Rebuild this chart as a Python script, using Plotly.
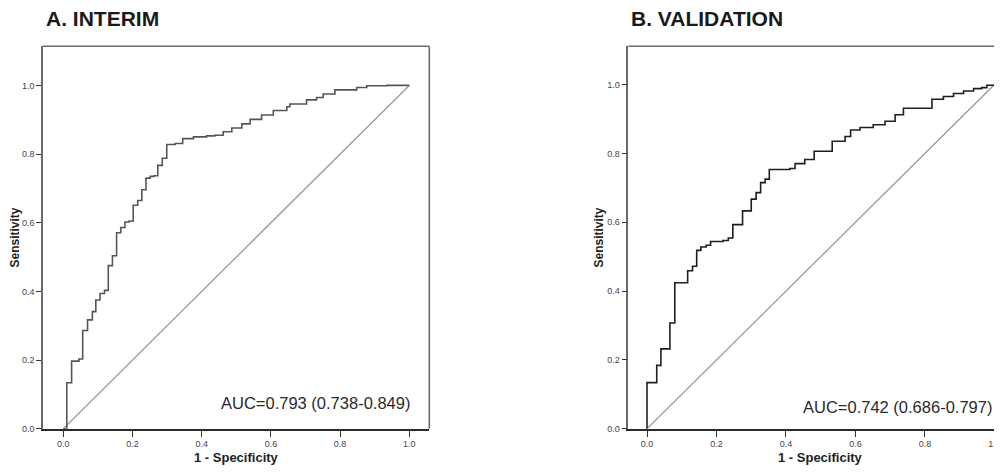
import plotly.graph_objects as go

# ---- data ----
panel_titles = ["A. INTERIM", "B. VALIDATION"]
auc_labels = ["AUC=0.793 (0.738-0.849)", "AUC=0.742 (0.686-0.797)"]
tick_vals = [0.0, 0.2, 0.4, 0.6, 0.8, 1.0]
tick_text = ["0.0", "0.2", "0.4", "0.6", "0.8", "1.0"]

interim_fpr = [0.000, 0.010, 0.024, 0.045, 0.056, 0.070, 0.084, 0.094, 0.106, 0.119,
               0.130, 0.142, 0.154, 0.166, 0.178, 0.190, 0.202, 0.215, 0.227, 0.239,
               0.251, 0.262, 0.273, 0.286, 0.299, 0.323, 0.345, 0.376, 0.414, 0.438,
               0.462, 0.487, 0.516, 0.540, 0.573, 0.607, 0.646, 0.655, 0.703, 0.732,
               0.751, 0.785, 0.848, 0.877, 0.935, 1.000]
interim_tpr = [0.000, 0.134, 0.197, 0.203, 0.286, 0.317, 0.341, 0.375, 0.394, 0.403,
               0.475, 0.504, 0.571, 0.586, 0.602, 0.605, 0.651, 0.665, 0.696, 0.730,
               0.735, 0.737, 0.767, 0.788, 0.828, 0.831, 0.845, 0.850, 0.853, 0.855,
               0.865, 0.876, 0.888, 0.901, 0.914, 0.927, 0.938, 0.946, 0.958, 0.965,
               0.975, 0.987, 0.994, 0.999, 1.000, 1.000]

validation_fpr = [0.000, 0.000, 0.028, 0.040, 0.066, 0.080, 0.117, 0.131, 0.143, 0.155,
                  0.170, 0.183, 0.219, 0.234, 0.247, 0.275, 0.300, 0.314, 0.327, 0.340,
                  0.352, 0.411, 0.426, 0.454, 0.481, 0.533, 0.570, 0.586, 0.613, 0.651,
                  0.685, 0.714, 0.738, 0.820, 0.853, 0.882, 0.911, 0.940, 0.963, 0.978,
                  1.000]
validation_tpr = [0.000, 0.134, 0.184, 0.232, 0.307, 0.424, 0.459, 0.472, 0.518, 0.528,
                  0.533, 0.544, 0.547, 0.554, 0.593, 0.633, 0.667, 0.686, 0.715, 0.725,
                  0.753, 0.756, 0.770, 0.782, 0.806, 0.835, 0.849, 0.868, 0.875, 0.883,
                  0.893, 0.912, 0.931, 0.957, 0.965, 0.974, 0.981, 0.988, 0.991, 0.998,
                  1.000]

diag = [0.0, 1.0]

# page body has an 8px default margin: the figure is shifted by it
OFF = 8
W, H = 1002 - OFF, 474 - OFF
FONT = "Arial, Liberation Sans, sans-serif"


def px(x):
    return (x - OFF) / W


def py(y):
    return 1 - (y - OFF) / H


fig = go.Figure()

fig.add_trace(go.Scatter(x=diag, y=diag, mode="lines", line=dict(color="#9a9a9a", width=1.3),
                         xaxis="x", yaxis="y", hoverinfo="skip", showlegend=False))
fig.add_trace(go.Scatter(x=diag, y=diag, mode="lines", line=dict(color="#9a9a9a", width=1.3),
                         xaxis="x2", yaxis="y2", hoverinfo="skip", showlegend=False))
fig.add_trace(go.Scatter(x=interim_fpr, y=interim_tpr, mode="lines", line_shape="hv",
                         line=dict(color="#555555", width=1.6), xaxis="x", yaxis="y",
                         showlegend=False))
fig.add_trace(go.Scatter(x=validation_fpr, y=validation_tpr, mode="lines", line_shape="hv",
                         line=dict(color="#1e1e1e", width=1.6), xaxis="x2", yaxis="y2",
                         showlegend=False))

ydom = [py(433.3), py(46.7)]
common_x = dict(tickmode="array", tickvals=tick_vals, ticktext=tick_text, ticks="outside",
                ticklen=6, tickwidth=1.3, tickcolor="#333333", showgrid=False, zeroline=False,
                showline=True, linecolor="#2a2a2a", linewidth=1.6,
                tickfont=dict(family=FONT, size=9, color="#444444"), fixedrange=True)
common_y = dict(tickmode="array", tickvals=tick_vals, ticktext=tick_text, ticks="outside",
                ticklen=5, tickwidth=1.3, tickcolor="#333333", showgrid=False, zeroline=False,
                showline=True, linecolor="#6a6a6a", linewidth=1.6,
                tickfont=dict(family=FONT, size=9, color="#444444"), fixedrange=True)

fig.update_layout(
    width=W, height=H, autosize=False,
    margin=dict(l=0, r=0, t=0, b=0),
    paper_bgcolor="white", plot_bgcolor="white",
    xaxis=dict(domain=[px(43), px(429.3)], range=[-0.0587, 1.0578], anchor="y", **common_x),
    yaxis=dict(domain=ydom, range=[0, 1.114], anchor="x", **common_y),
    xaxis2=dict(domain=[px(628.3), 1.0], range=[-0.0538, 1.0216], anchor="y2", **common_x),
    yaxis2=dict(domain=ydom, range=[0, 1.111], anchor="x2", **common_y),
)

shapes = [
    dict(type="line", xref="x domain", yref="y domain", x0=0, x1=1, y0=1, y1=1,
         line=dict(color="#6a6a6a", width=1.6)),
    dict(type="line", xref="x domain", yref="y domain", x0=1, x1=1, y0=0, y1=1,
         line=dict(color="#6a6a6a", width=1.6)),
    dict(type="line", xref="x2 domain", yref="y2 domain", x0=0, x1=1, y0=1, y1=1,
         line=dict(color="#6a6a6a", width=1.6)),
]
fig.update_layout(shapes=shapes)

ann = []
ann.append(dict(text="<b>" + panel_titles[0] + "</b>", x=px(44), y=py(19), xref="paper", yref="paper",
                xanchor="left", yanchor="middle", showarrow=False,
                font=dict(family=FONT, size=21, color="#1a1a1a")))
ann.append(dict(text="<b>" + panel_titles[1] + "</b>", x=px(629), y=py(19), xref="paper", yref="paper",
                xanchor="left", yanchor="middle", showarrow=False,
                font=dict(family=FONT, size=21, color="#1a1a1a")))
for xc, xt in [(15, 236.3), (599, 820.7)]:
    ann.append(dict(text="<b>Sensitivity</b>", x=px(xc), y=py(240), xref="paper", yref="paper",
                    textangle=-90, xanchor="center", yanchor="middle", showarrow=False,
                    font=dict(family=FONT, size=12, color="#222222")))
    ann.append(dict(text="<b>1 - Specificity</b>", x=px(xt), y=py(462.5), xref="paper", yref="paper",
                    xanchor="center", yanchor="middle", showarrow=False,
                    font=dict(family=FONT, size=13, color="#222222")))
ann.append(dict(text=auc_labels[0], x=px(412), y=py(407), xref="paper", yref="paper",
                xanchor="right", yanchor="middle", showarrow=False,
                font=dict(family=FONT, size=16.5, color="#2a2a2a")))
ann.append(dict(text=auc_labels[1], x=px(994), y=py(411), xref="paper", yref="paper",
                xanchor="right", yanchor="middle", showarrow=False,
                font=dict(family=FONT, size=16.5, color="#2a2a2a")))
fig.update_layout(annotations=ann)

fig.write_html("out.html")
